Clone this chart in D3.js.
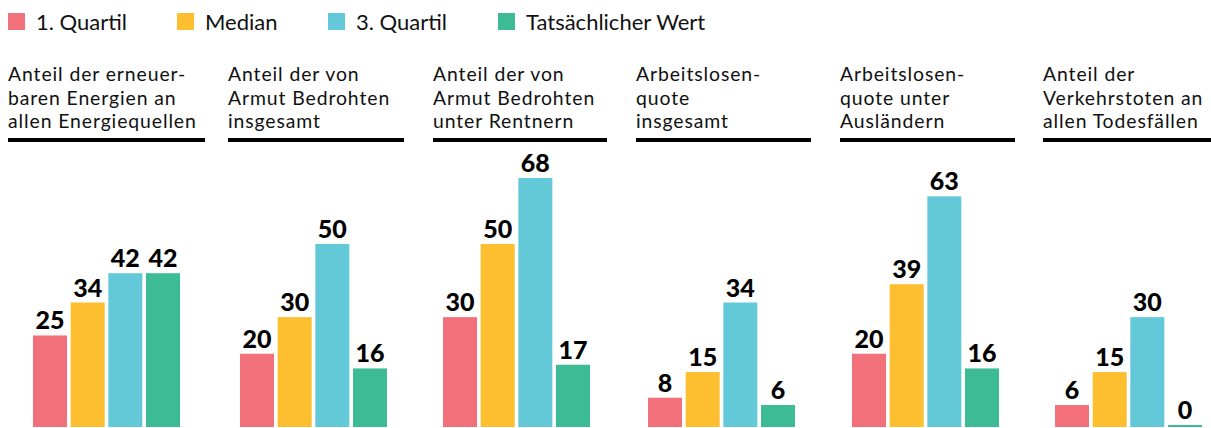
<!DOCTYPE html>
<html>
<head>
<meta charset="utf-8">
<script src="https://cdn.jsdelivr.net/npm/d3@7"></script>
<style>
  html, body { margin: 0; padding: 0; background: #fff; }
  svg { display: block; }
  text { font-family: Lato, "Source Sans Pro", sans-serif; }
</style>
</head>
<body>
<svg id="chart" width="1211" height="428"></svg>
<script>
// ---- data ----
const seriesNames = ["1. Quartil", "Median", "3. Quartil", "Tatsächlicher Wert"];
const seriesColors = ["#f2707a", "#fdbf30", "#63c9d8", "#3dbb94"];
const panelTitles = [
  ["Anteil der erneuer-", "baren Energien an", "allen Energiequellen"],
  ["Anteil der von", "Armut Bedrohten", "insgesamt"],
  ["Anteil der von", "Armut Bedrohten", "unter Rentnern"],
  ["Arbeitslosen-", "quote", "insgesamt"],
  ["Arbeitslosen-", "quote unter", "Ausländern"],
  ["Anteil der", "Verkehrstoten an", "allen Todesfällen"]
];
const quartil1 = [25, 20, 30, 8, 20, 6];
const median   = [34, 30, 50, 15, 39, 15];
const quartil3 = [42, 50, 68, 34, 63, 30];
const actual   = [42, 16, 17, 6, 16, 0];

// ---- layout ----
const panelX = [8, 228, 433, 636, 840, 1043];
const ruleW = [197, 176, 174, 175, 175, 176];
const barStart = [33, 240, 443, 648, 852, 1055];
const barsW = 147;
const legendX = [8, 177, 328, 498];

const svg = d3.select("#chart");

// legend
const lg = svg.append("g");
seriesNames.forEach((name, i) => {
  lg.append("rect").attr("x", legendX[i]).attr("y", 13).attr("width", 17).attr("height", 17)
    .attr("fill", seriesColors[i]);
  lg.append("text").attr("x", legendX[i] + 28).attr("y", 29.5)
    .attr("font-size", 22).attr("fill", "#111").text(name);
});

const y = d3.scaleLinear().domain([0, 68]).range([427, 178]);
const color = d3.scaleOrdinal().domain(seriesNames).range(seriesColors);

panelTitles.forEach((lines, p) => {
  const g = svg.append("g");
  const t = g.append("text").attr("x", panelX[p]).attr("y", 81)
    .attr("font-size", 19.4).attr("letter-spacing", 0.9).attr("fill", "#111");
  lines.forEach((ln, j) => {
    t.append("tspan").attr("x", panelX[p]).attr("dy", j === 0 ? 0 : 23.5).text(ln);
  });
  g.append("rect").attr("x", panelX[p]).attr("y", 138).attr("width", ruleW[p]).attr("height", 4)
    .attr("fill", "#000");

  const vals = [quartil1[p], median[p], quartil3[p], actual[p]];
  const data = seriesNames.map((s, i) => ({ s, v: vals[i] }));
  const x = d3.scaleBand().domain(seriesNames).range([barStart[p], barStart[p] + barsW])
    .paddingInner(0.0973).paddingOuter(0);

  g.selectAll("rect.bar").data(data).enter().append("rect").attr("class", "bar")
    .attr("x", d => x(d.s)).attr("width", x.bandwidth())
    .attr("y", d => Math.min(y(d.v), y(0) - 2))
    .attr("height", d => Math.max(y(0) - y(d.v), 2))
    .attr("fill", d => color(d.s));

  g.selectAll("text.val").data(data).enter().append("text").attr("class", "val")
    .attr("x", d => x(d.s) + x.bandwidth() / 2)
    .attr("y", d => Math.min(y(d.v), y(0) - 2) - 6)
    .attr("text-anchor", "middle").attr("font-size", 25).attr("font-weight", 900)
    .attr("fill", "#000").text(d => d.v);
});
</script>
</body>
</html>
